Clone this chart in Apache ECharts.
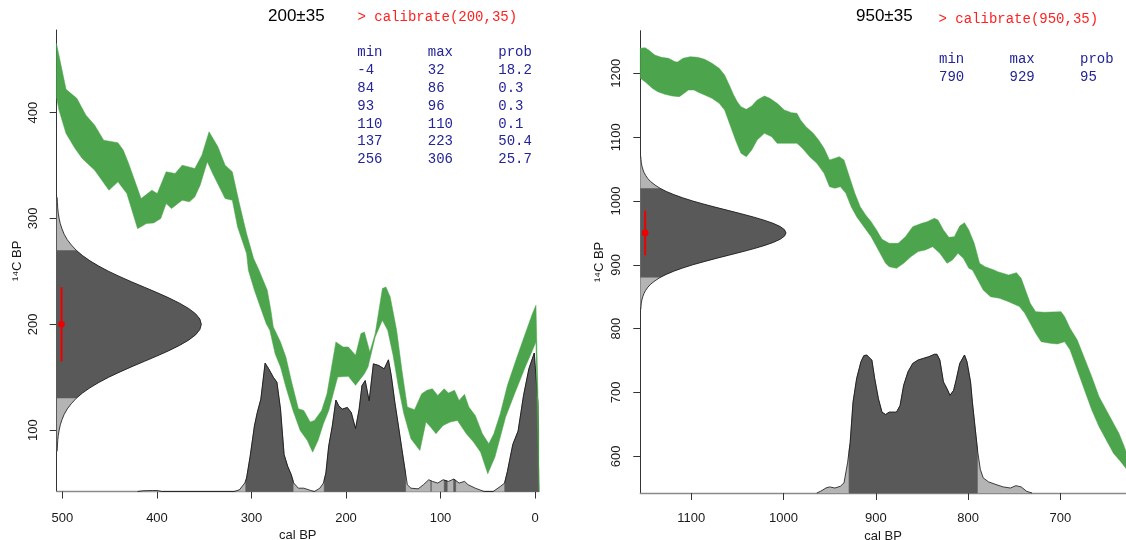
<!DOCTYPE html>
<html>
<head>
<meta charset="utf-8">
<script src="https://cdn.jsdelivr.net/npm/echarts@6/dist/echarts.min.js"></script>
<style>
  html, body { margin: 0; padding: 0; background: #ffffff; }
  #chart { width: 1126px; height: 540px; }
</style>
</head>
<body>
<div id="chart"></div>
<script>
// ---------- Date 1: 200 ± 35 ----------
const leftAge = 200;
const leftError = 35;
// calibration curve band, upper / lower edge  [cal BP, 14C BP]
const leftCurveUpper = [[506.4,465.5],[496.2,422.0],[484.8,413.5],[475.3,397.7],[465.9,388.2],[456.4,374.0],[441.3,371.5],[435.7,364.6],[430.0,352.0],[416.8,318.8],[405.4,326.7],[399.7,323.6],[390.3,344.1],[380.8,342.5],[373.3,350.4],[360.0,347.2],[352.5,359.8],[344.9,381.9],[335.5,367.7],[327.9,350.4],[320.3,344.1],[312.8,314.1],[305.2,285.7],[297.7,262.1],[292.0,251.0],[283.3,232.2],[279.5,213.3],[276.9,197.5],[269.3,183.3],[263.6,169.1],[257.9,147.0],[250.4,120.2],[244.7,118.6],[237.9,107.6],[233.4,109.2],[225.8,118.6],[220.1,134.4],[210.7,183.3],[203.1,178.6],[197.5,178.6],[189.9,170.7],[184.2,191.2],[180.5,192.8],[174.8,173.8],[169.1,191.2],[161.5,233.8],[157.8,235.3],[153.2,225.9],[146.4,194.3],[140.8,156.5],[135.1,121.8],[127.5,119.3],[119.9,134.4],[114.3,137.6],[108.6,139.1],[102.9,132.8],[96.1,139.1],[91.6,135.0],[85.2,137.6],[80.3,128.1],[74.6,133.8],[70.0,121.8],[63.2,113.9],[55.7,96.6],[48.9,87.1],[43.6,96.6],[36.8,115.5],[29.2,142.3],[19.7,167.5],[10.3,191.2],[2.7,210.1],[-1.0,218.0],[-3.9,100.0]];
const leftCurveLower = [[506.4,415.0],[503.7,402.4],[496.2,380.3],[486.7,366.1],[479.1,356.7],[465.9,345.6],[450.8,326.7],[441.3,334.6],[431.9,323.6],[420.5,290.4],[411.1,295.2],[403.5,295.8],[396.0,299.9],[390.3,314.1],[384.6,309.4],[373.3,317.3],[365.7,315.7],[360.0,320.4],[354.3,331.5],[346.8,353.5],[341.1,342.5],[327.9,318.8],[320.3,317.3],[314.7,292.0],[305.2,266.8],[303.3,251.1],[296.9,232.2],[292.0,219.6],[284.4,200.6],[280.6,194.3],[275.0,172.2],[269.3,159.6],[263.6,140.7],[256.1,118.6],[248.5,99.7],[240.9,90.2],[235.3,79.2],[229.6,90.2],[223.9,106.0],[218.2,118.6],[208.8,150.2],[197.5,150.8],[189.9,142.3],[180.5,153.3],[176.7,159.6],[169.1,188.0],[161.5,203.8],[155.9,194.3],[150.2,170.7],[144.5,140.7],[138.8,115.5],[131.3,91.8],[121.8,80.8],[115.4,107.6],[110.5,102.9],[104.8,96.6],[97.3,104.4],[89.7,107.6],[82.1,109.2],[72.7,96.6],[65.1,88.7],[57.6,79.2],[50.0,58.7],[42.4,74.5],[31.1,112.3],[21.6,134.4],[10.3,159.6],[2.7,175.4],[-1.0,183.3],[-3.9,42.0]];
// calibrated probability (relative to its peak)  [cal BP, density]
const leftCalDensity = [[420.5,0],[415.0,0.005],[405.0,0.007],[399.7,0.007],[395.0,0],[318.4,0],[312.8,0.012],[307.1,0.061],[305.2,0.097],[301.4,0.255],[296.9,0.473],[293.9,0.570],[290.1,0.667],[285.6,0.927],[281.8,0.886],[276.9,0.825],[273.1,0.789],[269.3,0.595],[265.5,0.267],[261.7,0.182],[257.9,0.121],[255.3,0.061],[250.4,0.024],[244.7,0.024],[237.2,0.007],[233.4,0],[227.7,0.024],[223.9,0.061],[221.3,0.133],[218.3,0.328],[214.5,0.473],[210.7,0.660],[207.7,0.619],[203.9,0.595],[198.6,0.607],[194.4,0.570],[189.9,0.454],[186.1,0.595],[183.1,0.765],[179.7,0.801],[175.5,0.655],[171.0,0.922],[165.3,0.910],[159.6,0.886],[155.1,0.951],[152.1,0.837],[148.3,0.643],[144.5,0.473],[140.8,0.303],[137.0,0.133],[135.1,0.049],[131.3,0.024],[123.7,0.019],[118.1,0.049],[112.4,0.085],[108.6,0.073],[102.9,0.061],[97.3,0.085],[91.6,0.073],[85.9,0.090],[80.3,0.061],[74.6,0.073],[70.8,0.049],[63.2,0.024],[53.8,0],[44.3,0],[36.8,0.036],[32.2,0.061],[29.2,0.146],[23.5,0.340],[17.9,0.437],[12.2,0.692],[6.5,0.886],[0.8,1.0],[-3.0,0.643],[-4.0,0]];
// 95% ranges
const leftRangeMin = [-4, 84, 93, 110, 137, 256];
const leftRangeMax = [32, 86, 96, 110, 223, 306];
const leftRangeProb = [18.2, 0.3, 0.3, 0.1, 50.4, 25.7];
const leftTicksX = [0, 100, 200, 300, 400, 500];
const leftTicksY = [100, 200, 300, 400];

// ---------- Date 2: 950 ± 35 ----------
const rightAge = 950;
const rightError = 35;
const rightCurveUpper = [[1155.3,1239.2],[1150.2,1240.2],[1146.2,1236.6],[1139.6,1228.7],[1132.5,1225.1],[1124.7,1223.5],[1117.6,1218.3],[1114.9,1217.8],[1109.0,1223.5],[1101.1,1226.1],[1093.3,1225.1],[1085.5,1221.9],[1077.6,1215.7],[1069.8,1207.8],[1063.9,1197.4],[1058.0,1179.1],[1054.1,1166.1],[1050.2,1155.6],[1046.2,1147.8],[1040.4,1143.6],[1034.5,1148.8],[1028.6,1158.2],[1020.8,1164.5],[1014.9,1160.8],[1007.0,1153.0],[999.2,1142.6],[991.4,1138.4],[985.5,1137.3],[981.6,1126.9],[975.7,1116.5],[967.8,1106.0],[962.0,1095.6],[956.1,1082.5],[950.2,1064.2],[944.3,1066.9],[939.6,1069.5],[934.5,1064.2],[928.6,1038.1],[922.7,1012.0],[916.9,991.1],[911.0,978.1],[905.1,967.6],[899.2,954.6],[893.3,940.0],[885.5,933.7],[875.7,933.7],[867.9,944.1],[860.0,959.8],[850.2,965.0],[844.3,967.6],[836.5,972.9],[832.6,970.2],[826.7,954.6],[820.8,943.1],[814.9,944.1],[809.0,960.8],[803.9,966.1],[799.2,954.6],[793.3,933.7],[787.5,902.4],[781.6,897.1],[771.8,891.9],[767.9,889.3],[756.1,884.1],[747.5,887.7],[742.4,878.8],[736.5,855.3],[732.6,839.7],[726.7,826.6],[716.9,825.6],[709.0,826.1],[699.2,826.6],[695.3,818.8],[689.4,800.5],[681.6,782.2],[673.8,753.5],[665.9,724.8],[658.1,693.5],[650.2,672.6],[642.4,651.7],[636.5,636.0],[630.6,615.1],[627.5,602.1]];
const rightCurveLower = [[1155.3,1192.2],[1150.2,1187.0],[1142.3,1176.5],[1136.4,1171.3],[1128.6,1167.1],[1120.7,1164.5],[1112.9,1163.5],[1107.0,1169.7],[1103.1,1173.9],[1097.2,1173.9],[1091.3,1169.7],[1085.5,1166.1],[1077.6,1160.8],[1069.8,1153.0],[1063.9,1142.6],[1058.0,1119.1],[1052.1,1095.6],[1046.2,1074.7],[1040.4,1069.5],[1034.5,1079.9],[1028.6,1095.6],[1020.8,1106.0],[1012.9,1100.8],[1007.0,1090.4],[999.2,1090.4],[991.4,1090.4],[985.5,1090.4],[979.6,1082.5],[971.7,1069.5],[963.9,1059.0],[956.1,1043.3],[950.2,1022.5],[944.3,1019.9],[938.4,1022.5],[932.5,1012.0],[926.7,991.1],[920.8,975.5],[913.0,959.8],[905.1,944.1],[899.2,928.5],[893.3,912.8],[889.4,902.4],[885.5,897.1],[877.6,894.5],[869.8,902.4],[862.0,912.8],[854.1,920.7],[846.3,923.3],[838.4,928.5],[830.6,918.0],[822.8,902.4],[816.9,907.6],[811.0,918.0],[805.1,910.2],[799.2,894.5],[795.3,891.9],[789.4,876.2],[783.6,860.6],[775.7,850.1],[765.9,847.5],[756.1,842.3],[744.3,834.5],[738.5,824.0],[732.6,808.4],[726.7,792.7],[720.8,779.6],[711.0,777.0],[703.2,776.0],[695.3,779.6],[689.4,766.6],[681.6,735.2],[673.8,703.9],[665.9,672.6],[658.1,646.5],[650.2,625.6],[642.4,604.7],[634.5,591.6],[627.5,578.6]];
const rightCalDensity = [[964.0,0],[960.0,0.012],[954.1,0.036],[950.2,0.044],[944.3,0.036],[938.4,0.049],[934.5,0.073],[930.6,0.218],[927.8,0.364],[924.7,0.655],[920.8,0.825],[916.1,0.947],[913.0,0.990],[909.8,0.995],[907.0,0.976],[904.3,0.959],[901.2,0.825],[897.2,0.680],[893.3,0.583],[889.4,0.566],[885.5,0.583],[877.6,0.583],[873.7,0.631],[869.8,0.777],[865.1,0.874],[860.0,0.934],[854.1,0.959],[848.2,0.971],[842.4,0.983],[836.5,1.0],[833.7,1.0],[830.6,0.959],[826.7,0.801],[822.8,0.752],[819.6,0.704],[815.7,0.740],[813.0,0.813],[809.0,0.934],[803.9,0.995],[801.2,0.947],[797.3,0.801],[795.3,0.655],[792.2,0.461],[789.4,0.291],[786.7,0.170],[783.6,0.109],[777.7,0.080],[769.8,0.061],[762.0,0.044],[754.1,0.036],[748.2,0.053],[742.4,0.044],[736.5,0.012],[730.6,0]];
const rightRangeMin = [790];
const rightRangeMax = [929];
const rightRangeProb = [95];
const rightTicksX = [700, 800, 900, 1000, 1100];
const rightTicksY = [600, 700, 800, 900, 1000, 1100, 1200];

// radiocarbon date profile (offset from the mean, relative height), shared by both dates
const dateOffsets = [-120,-115,-110,-105,-100,-95,-90,-85,-80,-75,-70,-65,-60,-55,-50,-45,-40,-35,-30,-25,-20,-15,-10,-5,0,5,10,15,20,25,30,35,40,45,50,55,60,65,70,75,80,85,90,95,100,105,110,115,120];
const dateHeights = [0.003,0.005,0.007,0.011,0.017,0.025,0.037,0.052,0.073,0.101,0.135,0.178,0.230,0.291,0.360,0.438,0.520,0.607,0.693,0.775,0.849,0.912,0.960,0.990,1.000,0.990,0.960,0.912,0.849,0.775,0.693,0.607,0.520,0.438,0.360,0.291,0.230,0.178,0.135,0.101,0.073,0.052,0.037,0.025,0.017,0.011,0.007,0.005,0.003];

// ---------- drawing ----------
const PROFILE_SCALE = 0.3;   // both probability profiles use 30% of the opposite axis
const GREEN = '#4ca44c';
const DARK = '#595959';
const LIGHT = '#b4b4b4';
const SANS = '"Liberation Sans", Arial, sans-serif';
const MONO = '"Liberation Mono", "DejaVu Sans Mono", monospace';
const AXIS_FONT = 13;

const panels = [
  { xMin: -4, xMax: 506.1, yMin: 42, yMax: 478.1, age: leftAge, err: leftError,
    upper: leftCurveUpper, lower: leftCurveLower, dens: leftCalDensity,
    rmin: leftRangeMin, rmax: leftRangeMax },
  { xMin: 628.8, xMax: 1155.3, yMin: 542.5, yMax: 1266.8, age: rightAge, err: rightError,
    upper: rightCurveUpper, lower: rightCurveLower, dens: rightCalDensity,
    rmin: rightRangeMin, rmax: rightRangeMax }
];

function interp(pts, c) {
  for (let i = 0; i < pts.length - 1; i++) {
    const a = pts[i], b = pts[i + 1];
    if (c >= a[0] && c <= b[0]) {
      const t = b[0] === a[0] ? 0 : (c - a[0]) / (b[0] - a[0]);
      return a[1] + t * (b[1] - a[1]);
    }
  }
  return 0;
}

function buildPanel(p, api) {
  const px = pts => pts.map(q => api.coord(q));
  const X = p.xMax;
  const xSpan = p.xMax - p.xMin;
  const ySpan = p.yMax - p.yMin;
  const children = [];

  // radiocarbon date along the y axis
  const prof = dateOffsets.map((d, i) => [X - dateHeights[i] * PROFILE_SCALE * xSpan, p.age + d]);
  const lo = p.age + dateOffsets[0], hi = p.age + dateOffsets[dateOffsets.length - 1];
  children.push({ type: 'polygon', shape: { points: px([[X, lo]].concat(prof, [[X, hi]])) },
    style: { fill: LIGHT, stroke: null } });
  const inner = prof.filter((q, i) => Math.abs(dateOffsets[i]) <= 2 * p.err);
  children.push({ type: 'polygon',
    shape: { points: px([[X, inner[0][1]]].concat(inner, [[X, inner[inner.length - 1][1]]])) },
    style: { fill: DARK, stroke: null } });
  children.push({ type: 'polyline', shape: { points: px(prof) },
    style: { stroke: '#111', lineWidth: 0.8, fill: null } });

  // calibrated distribution along the x axis
  const dens = p.dens.slice().sort((a, b) => a[0] - b[0]);
  const toY = r => p.yMin + r * PROFILE_SCALE * ySpan;
  const densPts = dens.map(d => [d[0], toY(d[1])]);
  children.push({ type: 'polygon',
    shape: { points: px([[dens[0][0], p.yMin]].concat(densPts, [[dens[dens.length - 1][0], p.yMin]])) },
    style: { fill: LIGHT, stroke: null } });
  p.rmin.forEach((a, i) => {
    const b = p.rmax[i];
    const seg = [[a, toY(interp(dens, a))]];
    dens.forEach(d => { if (d[0] > a && d[0] < b) seg.push([d[0], toY(d[1])]); });
    seg.push([b, toY(interp(dens, b))]);
    children.push({ type: 'polygon',
      shape: { points: px([[a, p.yMin]].concat(seg, [[b, p.yMin]])) },
      style: { fill: DARK, stroke: DARK, lineWidth: 0.7 } });
  });
  children.push({ type: 'polyline', shape: { points: px(densPts) },
    style: { stroke: '#111', lineWidth: 0.8, fill: null } });

  // calibration curve band
  const band = p.upper.concat(p.lower.slice().reverse());
  children.push({ type: 'polygon', shape: { points: px(band) },
    style: { fill: GREEN, stroke: GREEN, lineWidth: 0.5 } });

  // the date itself: mean and 1-sigma bar
  const bx = X - 0.01 * xSpan;
  const b0 = api.coord([bx, p.age - p.err]), b1 = api.coord([bx, p.age + p.err]);
  children.push({ type: 'line', shape: { x1: b0[0], y1: b0[1], x2: b1[0], y2: b1[1] },
    style: { stroke: '#ee0000', lineWidth: 2 } });
  const c = api.coord([bx, p.age]);
  children.push({ type: 'circle', shape: { cx: c[0], cy: c[1], r: 3.3 },
    style: { fill: '#ee0000', stroke: null } });

  return children;
}

const plain = v => String(v);

function xAxisOf(idx, p, ticks, labelMargin, nameGap) {
  return {
    gridIndex: idx, type: 'value', min: p.xMin, max: p.xMax, inverse: true,
    axisLine: { show: true, onZero: false, lineStyle: { color: '#8a8a8a', width: 1.3 } },
    axisTick: { show: true, length: 7, customValues: ticks, lineStyle: { color: '#333', width: 1 } },
    axisLabel: { customValues: ticks, formatter: plain, margin: labelMargin, fontSize: AXIS_FONT,
                 color: '#1a1a1a', fontFamily: SANS },
    splitLine: { show: false },
    name: 'cal BP', nameLocation: 'middle', nameGap: nameGap,
    nameTextStyle: { fontSize: AXIS_FONT, color: '#1a1a1a', fontFamily: SANS }
  };
}
function yAxisOf(idx, p, ticks, labelMargin, nameGap) {
  return {
    gridIndex: idx, type: 'value', min: p.yMin, max: p.yMax,
    axisLine: { show: true, onZero: false, lineStyle: { color: '#333', width: 1 } },
    axisTick: { show: true, length: 7, customValues: ticks, lineStyle: { color: '#333', width: 1 } },
    axisLabel: { customValues: ticks, formatter: plain, rotate: 90, margin: labelMargin,
                 fontSize: AXIS_FONT, color: '#1a1a1a', fontFamily: SANS },
    splitLine: { show: false },
    name: '\u00B9\u2074C BP', nameLocation: 'middle', nameGap: nameGap, nameRotate: 90,
    nameTextStyle: { fontSize: AXIS_FONT, color: '#1a1a1a', fontFamily: SANS }
  };
}

function text(str, x, y, font, fill) {
  return { type: 'text', x: x, y: y, silent: true,
    style: { text: str, font: font, fill: fill, textAlign: 'left', align: 'left',
             textVerticalAlign: 'middle', verticalAlign: 'middle' } };
}

function tableTexts(x0, y0, mins, maxs, probs) {
  const out = [];
  const cols = [x0, x0 + 70.5, x0 + 141];
  const font = '14px ' + MONO, navy = '#23239a';
  ['min', 'max', 'prob'].forEach((h, j) => out.push(text(h, cols[j], y0, font, navy)));
  mins.forEach((m, i) => {
    const y = y0 + (i + 1) * 17.8;
    out.push(text(String(m), cols[0], y, font, navy));
    out.push(text(String(maxs[i]), cols[1], y, font, navy));
    out.push(text(String(probs[i]), cols[2], y, font, navy));
  });
  return out;
}

const graphics = [
  text(leftAge + '\u00B1' + leftError, 268, 16.5, '17px ' + SANS, '#000'),
  text('> calibrate(' + leftAge + ',' + leftError + ')', 357.5, 17, '14px ' + MONO, '#ff2020'),
  text(rightAge + '\u00B1' + rightError, 856, 16.5, '17px ' + SANS, '#000'),
  text('> calibrate(' + rightAge + ',' + rightError + ')', 938.5, 19.5, '14px ' + MONO, '#ff2020')
].concat(
  tableTexts(357.3, 52.7, leftRangeMin, leftRangeMax, leftRangeProb),
  tableTexts(939, 59.3, rightRangeMin, rightRangeMax, rightRangeProb)
);

const chart = echarts.init(document.getElementById('chart'), null, { renderer: 'canvas' });
chart.setOption({
  animation: false,
  backgroundColor: '#ffffff',
  grid: [
    { left: 56.7, top: 30, width: 482.1, height: 461.5, containLabel: false, outerBoundsMode: 'none' },
    { left: 640.3, top: 30.7, width: 485.7, height: 462.3, containLabel: false, outerBoundsMode: 'none' }
  ],
  xAxis: [
    xAxisOf(0, panels[0], leftTicksX, 20, 27),
    xAxisOf(1, panels[1], rightTicksX, 19, 26)
  ],
  yAxis: [
    yAxisOf(0, panels[0], leftTicksY, 17, 33),
    yAxisOf(1, panels[1], rightTicksY, 17, 34.5)
  ],
  series: panels.map((p, i) => ({
    type: 'custom', xAxisIndex: i, yAxisIndex: i, silent: true,
    data: [[p.xMin, p.yMin]],
    renderItem: (params, api) => ({ type: 'group', children: buildPanel(p, api) })
  })),
  graphic: graphics
});
</script>
</body>
</html>
